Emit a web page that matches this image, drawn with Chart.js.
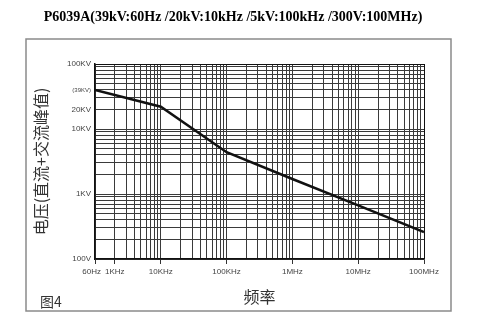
<!DOCTYPE html>
<html>
<head>
<meta charset="utf-8">
<script src="https://cdn.jsdelivr.net/npm/chart.js@4.4.1/dist/chart.umd.min.js"></script>
<style>
  html, body { margin: 0; padding: 0; background: #fff; }
  #wrap { width: 499px; height: 333px; }
</style>
</head>
<body>
<div id="wrap"><canvas id="chart"></canvas></div>
<script>
//Curve points (frequency axis position, voltage)
const freqs = [1000, 10000, 100000, 1000000, 10000000, 100000000];
const volts = [40000, 22000, 4400, 1700, 670, 260];

//Labelled ticks on the frequency axis
const xTickValues = [1000, 2000, 10000, 100000, 1000000, 10000000, 100000000];
const xTickLabels = ["60Hz   ", "1KHz", "10KHz", "100KHz", "1MHz", "10MHz", "100MHz"];

//Labelled ticks on the voltage axis
const yTickValues = [100, 1000, 10000, 20000, 39000, 100000];
const yTickLabels = ["100V", "1KV", "10KV", "20KV", "(39KV)", "100KV"];

const titleText = "P6039A(39kV:60Hz /20kV:10kHz /5kV:100kHz /300V:100MHz)";
const xTitle = "频率";
const yTitle = "电压(直流+交流峰值)";
const figLabel = "图4";

//log grid: 1..9 in every decade between lo and hi
const logGrid = (lo, hi, extra) => {
  const vals = [];
  for (let d = lo; d < hi; d *= 10) {
    for (let m = 1; m < 10; m++) vals.push(m * d);
  }
  vals.push(hi);
  extra.forEach((v) => { if (!vals.includes(v)) vals.push(v); });
  vals.sort((a, b) => a - b);
  return vals.map((v) => ({ value: v }));
};

//heading, outer frame and figure number
const framePlugin = {
  id: "frame",
  afterDraw(chart) {
    const ctx = chart.ctx;
    ctx.save();
    ctx.fillStyle = "#000";
    ctx.font = "bold 14px 'Liberation Serif'";
    ctx.textAlign = "center";
    ctx.textBaseline = "middle";
    ctx.fillText(titleText, 233, 17);
    ctx.strokeStyle = "#8a8a8a";
    ctx.lineWidth = 1.5;
    ctx.strokeRect(26, 39, 425, 272);
    ctx.fillStyle = "#333";
    ctx.font = "14px 'Noto Sans CJK SC'";
    ctx.textAlign = "left";
    ctx.textBaseline = "alphabetic";
    ctx.fillText(figLabel, 40, 307);
    ctx.restore();
  },
};

const labelFor = (values, labels, v) => {
  const i = values.indexOf(v);
  return i < 0 ? "" : labels[i];
};

new Chart(document.getElementById("chart"), {
  type: "line",
  plugins: [framePlugin],
  data: {
    datasets: [
      {
        data: freqs.map((f, i) => ({ x: f, y: volts[i] })),
        borderColor: "#111",
        borderWidth: 2.5,
        pointRadius: 0,
        tension: 0,
      },
    ],
  },
  options: {
    responsive: true,
    maintainAspectRatio: false,
    animation: false,
    layout: { padding: { left: 28, right: 75, top: 64, bottom: 20 } },
    plugins: {
      legend: { display: false },
      tooltip: { enabled: false },
      title: { display: false },
    },
    scales: {
      x: {
        type: "logarithmic",
        min: 1000,
        max: 100000000,
        afterBuildTicks: (s) => { s.ticks = logGrid(1000, 100000000, [2000]); },
        afterFit: (s) => { s.height = 54; },
        border: { display: true, color: "#111", width: 1.5 },
        grid: {
          color: (c) => (c.tick && c.tick.value === 100000000 ? "#111" : "#3a3a3a"),
          lineWidth: 1,
          drawTicks: true,
          tickLength: 5,
          tickColor: (c) => (c.tick && xTickValues.includes(c.tick.value) ? "#333" : "rgba(0,0,0,0)"),
        },
        ticks: {
          autoSkip: false,
          maxRotation: 0,
          padding: 3,
          color: "#444",
          font: { family: "'Liberation Sans'", size: 8 },
          callback: (v) => labelFor(xTickValues, xTickLabels, v),
        },
        title: {
          display: true,
          text: xTitle,
          color: "#333",
          font: { family: "'Noto Sans CJK SC'", size: 16 },
          padding: { top: 0, bottom: 6 },
        },
      },
      y: {
        type: "logarithmic",
        min: 100,
        max: 100000,
        afterBuildTicks: (s) => { s.ticks = logGrid(100, 100000, [39000]); },
        afterFit: (s) => { s.width = 67; },
        border: { display: true, color: "#111", width: 1.5 },
        grid: {
          color: (c) => {
            if (!c.tick) return "#3a3a3a";
            if (c.tick.value === 39000) return "rgba(0,0,0,0)";
            return c.tick.value === 100000 ? "#111" : "#3a3a3a";
          },
          lineWidth: 1,
          drawTicks: false,
        },
        ticks: {
          autoSkip: false,
          padding: 4,
          color: "#444",
          font: (c) => ({
            family: "'Liberation Sans'",
            size: c.tick && c.tick.value === 39000 ? 6 : 8,
          }),
          callback: (v) => labelFor(yTickValues, yTickLabels, v),
        },
        title: {
          display: true,
          text: yTitle,
          color: "#333",
          font: { family: "'Noto Sans CJK SC'", size: 16 },
          padding: { top: 3, bottom: 0 },
        },
      },
    },
  },
});
</script>
</body>
</html>
